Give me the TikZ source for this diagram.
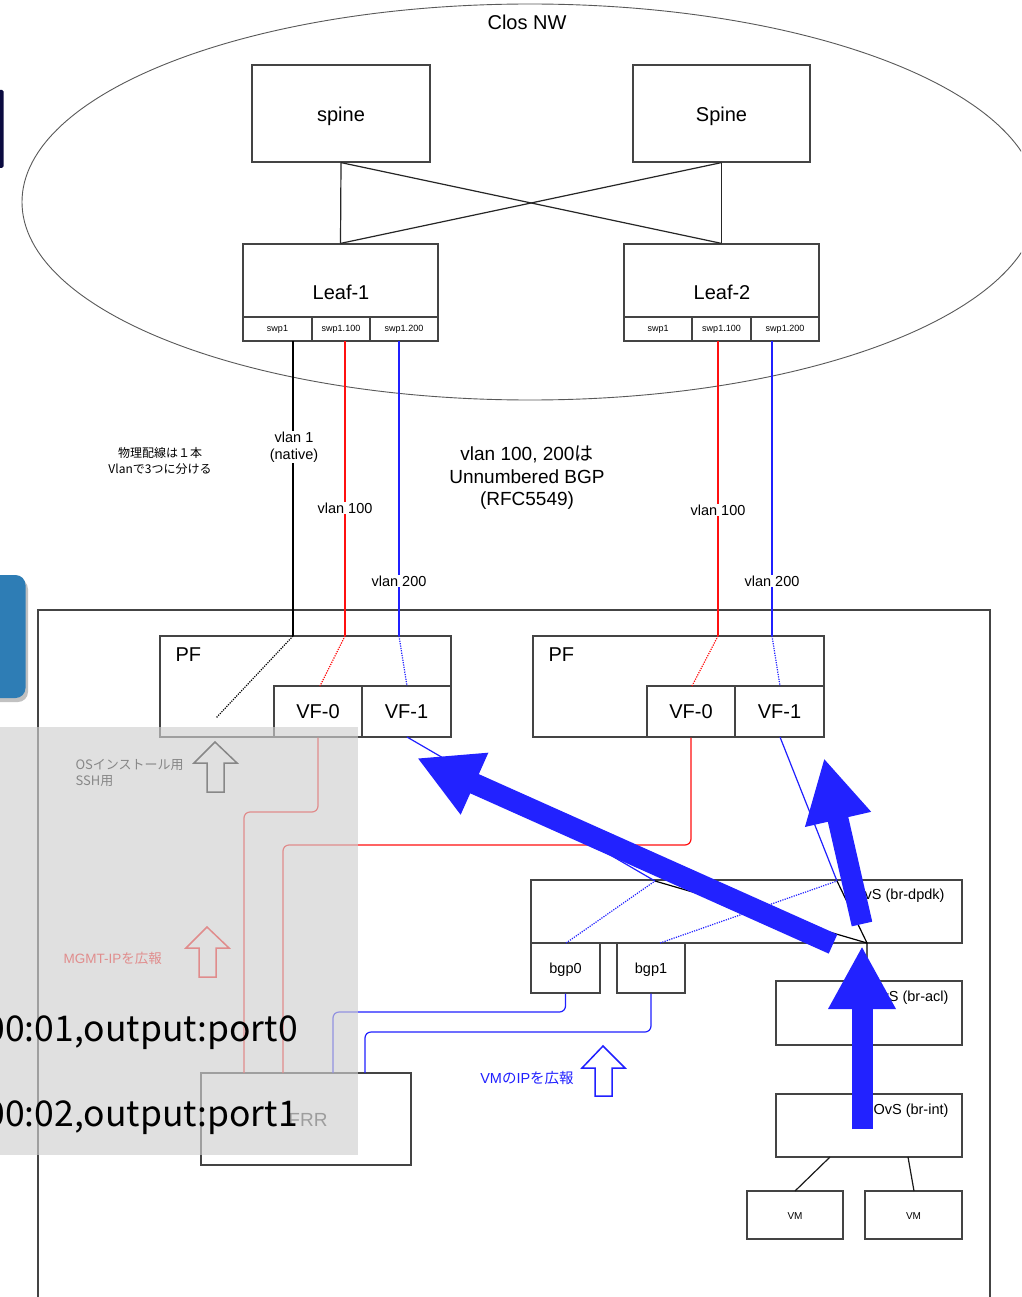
\documentclass[tikz,border=0pt]{standalone}
\usepackage{fontspec}
\setmainfont{Liberation Sans}
\newfontfamily\jp{Noto Sans CJK JP}
\usetikzlibrary{arrows.meta,fit}
\definecolor{lnblue}{HTML}{2020FF}
\definecolor{lnred}{HTML}{FF1010}
\definecolor{arrblue}{HTML}{2222FF}
\definecolor{boxc}{HTML}{444444}
\definecolor{ovl}{HTML}{D0D0D0}
\definecolor{navy}{HTML}{0B0B40}
\definecolor{tile}{HTML}{2E7DB5}
\newcommand\myfs[2]{\fontsize{#1}{#2}\selectfont}
\begin{document}
\begin{tikzpicture}[x=1pt,y=-1pt,
  box/.style={draw=boxc, line width=1.2pt, inner sep=0pt},
  wire/.style={line width=1.2pt},
  dots/.style={line width=1.2pt, dash pattern=on 1.2pt off 1.2pt},
  bigarrow/.style={arrblue, line width=21pt, -{Triangle[length=63pt,width=63pt]}},
  hollow/.style={line width=1.5pt, line join=miter},
  big/.style={font=\myfs{20}{24}},
  mid/.style={font=\myfs{14.5}{17}},
  tiny/.style={font=\myfs{9}{11}},
  vl/.style={fill=white, inner sep=1pt, font=\myfs{14.5}{17}, align=center},
]
\useasboundingbox (0,0) rectangle (1021,1297);
\clip (0,0) rectangle (1021,1297);
\fill[white] (0,0) rectangle (1021,1297);

% Clos NW ellipse
\draw[line width=0.9pt, black!65] (530,202) ellipse [x radius=508, y radius=198];
\node[big] (clos) at (527,22) {Clos NW};

% left page fragments
\fill[navy, rounded corners=1.5] (-5,90) rectangle (3.5,168);
\fill[black!40, opacity=0.6, rounded corners=10] (-18,579) rectangle (28,702);
\fill[tile, rounded corners=10] (-20,575) rectangle (25.5,698);

% spines
\node[box, fit={(252,65)(430,162)}, label={[big, yshift=-3pt]center:spine}] (sp1) {};
\node[box, fit={(633,65)(810,162)}, label={[big, yshift=-3pt]center:Spine}] (sp2) {};

% leaves
\node[box, fit={(243,244)(438,341)}] (lf1) {};
\node[big] (lf1t) at (341,292) {Leaf-1};
\node[box, fit={(243,317)(312,341)}, label={[tiny]center:swp1}] (lf1p0) {};
\node[box, fit={(312,317)(370,341)}, label={[tiny]center:swp1.100}] (lf1p1) {};
\node[box, fit={(370,317)(438,341)}, label={[tiny]center:swp1.200}] (lf1p2) {};

\node[box, fit={(624,244)(819,341)}] (lf2) {};
\node[big] (lf2t) at (722,292) {Leaf-2};
\node[box, fit={(624,317)(692,341)}, label={[tiny]center:swp1}] (lf2p0) {};
\node[box, fit={(692,317)(751,341)}, label={[tiny]center:swp1.100}] (lf2p1) {};
\node[box, fit={(751,317)(819,341)}, label={[tiny]center:swp1.200}] (lf2p2) {};

\draw[wire, black!85] (sp1.south) -- (lf1.north);
\draw[wire, black!85] (sp2.south) -- (lf2.north);
\draw[wire, black!85] (sp1.south) -- (lf2.north);
\draw[wire, black!85] (sp2.south) -- (lf1.north);

% host
\node[box, fit={(38,610)(990,1330)}] (host) {};

% PFs
\node[box, fit={(160,636)(451,737)}] (pf1) {};
\node[big, anchor=west] (pf1t) at (172,655) {PF};
\node[box, fit={(274,686)(362,737)}, label={[big]center:VF-0}] (vf10) {};
\node[box, fit={(362,686)(451,737)}, label={[big]center:VF-1}] (vf11) {};

\node[box, fit={(533,636)(824,737)}] (pf2) {};
\node[big, anchor=west] (pf2t) at (545,655) {PF};
\node[box, fit={(647,686)(735,737)}, label={[big]center:VF-0}] (vf20) {};
\node[box, fit={(735,686)(824,737)}, label={[big]center:VF-1}] (vf21) {};

% vlan wires
\coordinate (a1) at (293,341); \coordinate (b1) at (293,636);
\coordinate (a2) at (345,341); \coordinate (b2) at (345,636);
\coordinate (a3) at (399,341); \coordinate (b3) at (399,636);
\coordinate (a4) at (718,341); \coordinate (b4) at (718,636);
\coordinate (a5) at (772,341); \coordinate (b5) at (772,636);
\coordinate (c1) at (216,718);
\coordinate (c2) at (320,686);
\coordinate (c3) at (407,686);
\coordinate (c4) at (692,686);
\coordinate (c5) at (780,686);

\draw[wire, black] (a1) -- (b1);
\draw[wire, lnred] (a2) -- (b2);
\draw[wire, lnblue] (a3) -- (b3);
\draw[wire, lnred] (a4) -- (b4);
\draw[wire, lnblue] (a5) -- (b5);
\draw[dots, black] (b1) -- (c1);
\draw[dots, lnred] (b2) -- (c2);
\draw[dots, lnblue] (b3) -- (c3);
\draw[dots, lnred] (b4) -- (c4);
\draw[dots, lnblue] (b5) -- (c5);

\node[vl] (v1) at (294,447) {vlan 1\\(native)};
\node[vl] (v2) at (345,508) {vlan 100};
\node[vl] (v3) at (399,581) {vlan 200};
\node[vl] (v4) at (718,510) {vlan 100};
\node[vl] (v5) at (772,581) {vlan 200};

\node[font=\jp\myfs{12}{16}, align=center] (note1) at (160,461) {物理配線は１本\\Vlanで3つに分ける};
\node[font=\myfs{19}{22.5}, align=center] (note2) at (527,478) {vlan 100, 200{\jp は}\\Unnumbered BGP\\(RFC5549)};

% OvS and bgp boxes
\node[box, fit={(531,880)(962,943)}] (dpdk) {};
\node[mid, anchor=east] (dpdkt) at (948,896) {OvS (br-dpdk)};
\node[box, fit={(531,943)(600,993)}, label={[mid, yshift=-2pt]center:bgp0}] (bgp0) {};
\node[box, fit={(617,943)(685,993)}, label={[mid, yshift=-2pt]center:bgp1}] (bgp1) {};
\node[box, fit={(776,981)(962,1045)}] (acl) {};
\node[mid, anchor=east] (aclt) at (952,998) {OvS (br-acl)};
\node[box, fit={(776,1094)(962,1157)}] (bint) {};
\node[mid, anchor=east] (bintt) at (952,1111) {OvS (br-int)};
\node[box, fit={(747,1191)(843,1239)}, label={[font=\myfs{10}{12}, yshift=-1pt]center:VM}] (vm1) {};
\node[box, fit={(865,1191)(962,1239)}, label={[font=\myfs{10}{12}, yshift=-1pt]center:VM}] (vm2) {};
\coordinate (i1) at (830,1157); \coordinate (m1) at (795,1191);
\coordinate (i2) at (908,1157); \coordinate (m2) at (914,1191);
\draw[wire, black!90] (i1) -- (m1);
\draw[wire, black!90] (i2) -- (m2);

% FRR box
\node[box, fit={(201,1073)(411,1165)}] (frr) {};
\node[font=\myfs{19}{22}, text=black!75] (frrt) at (308,1120) {FRR};

% internal wires
\coordinate (d1) at (655,881);
\coordinate (d2) at (837,881);
\coordinate (d3) at (867,943);
\coordinate (d4) at (867,981);
\coordinate (g0) at (566,943);
\coordinate (g1) at (660,943);
\coordinate (e1) at (407,737);
\coordinate (e2) at (780,737);
\draw[wire, lnblue] (e1) -- (d1);
\draw[wire, lnblue] (e2) -- (d2);
\draw[wire, black] (d1) -- (d3);
\draw[wire, black] (d2) -- (d3) -- (d4);
\draw[dots, lnblue] (g0) -- (d1);
\draw[dots, lnblue] (g1) -- (d2);

\coordinate (f1) at (244,1073);
\coordinate (f2) at (283,1073);
\coordinate (f3) at (333,1073);
\coordinate (f4) at (365,1073);
\draw[wire, lnred, rounded corners=6] (vf10.south) -- (318,812) -- (244,812) -- (f1);
\draw[wire, lnred, rounded corners=6] (vf20.south) -- (691,845) -- (283,845) -- (f2);
\draw[wire, lnblue, rounded corners=6] (bgp0.south) -- (565.5,1012) -- (333,1012) -- (f3);
\draw[wire, lnblue, rounded corners=6] (bgp1.south) -- (651,1032) -- (365,1032) -- (f4);

% hollow arrows and their labels
\draw[hollow, black] (215,742) -- (237,763) -- (224,763) -- (224,792) -- (207,792) -- (207,763) -- (194,763) -- cycle;
\node[font=\jp\myfs{13}{16}, align=left, anchor=west] (ost) at (72,773) {OSインストール用\\SSH用};
\draw[hollow, lnred] (207,927) -- (229,948) -- (216,948) -- (216,977) -- (199,977) -- (199,948) -- (186,948) -- cycle;
\node[font=\myfs{13.5}{16}, text=lnred, anchor=west] (mgt) at (60,958) {MGMT-IP{\jp を広報}};
\draw[hollow, lnblue] (603,1046) -- (625,1068) -- (612,1068) -- (612,1096) -- (595,1096) -- (595,1068) -- (582,1068) -- cycle;
\node[font=\myfs{14.5}{17}, text=lnblue] (vmip) at (527,1078) {VM{\jp の}IP{\jp を広報}};

% gray overlay
\fill[ovl, opacity=0.65] (0,727) rectangle (358,1155);
\node[font=\jp\myfs{35.5}{40}, anchor=east, inner sep=0pt] (fl1) at (298,1033) {00:01,output:port0};
\node[font=\jp\myfs{35.5}{40}, anchor=east, inner sep=0pt] (fl2) at (298,1118) {00:02,output:port1};

% big blue arrows
\coordinate (t1) at (833,944); \coordinate (h1) at (417,758);
\coordinate (t2) at (862,924); \coordinate (h2) at (824,758);
\coordinate (t3) at (862,1129); \coordinate (h3) at (862,946);
\draw[bigarrow] (t1) -- (h1);
\draw[bigarrow] (t2) -- (h2);
\draw[bigarrow] (t3) -- (h3);
\end{tikzpicture}
\end{document}
